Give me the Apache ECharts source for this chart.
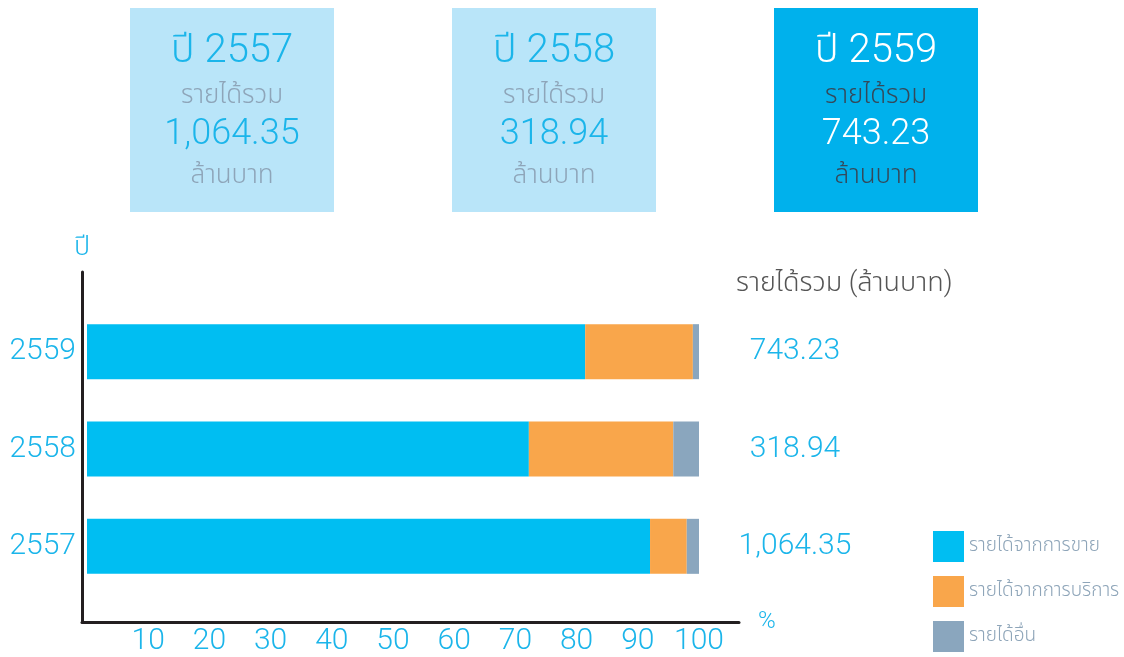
<!DOCTYPE html>
<html>
<head>
<meta charset="utf-8">
<script src="https://cdn.jsdelivr.net/npm/echarts@6/dist/echarts.min.js"></script>
<style>
  html, body { margin: 0; padding: 0; background: #fff; }
  #main { width: 1124px; height: 657px; }
</style>
</head>
<body>
<div id="main"></div>
<script>
// data (percent share of total revenue)
const years = ['2557', '2558', '2559']
const sales = [92.0, 72.2, 81.4]
const service = [6.0, 23.6, 17.6]
const other = [2.0, 4.2, 1.0]
const totals = ['1,064.35', '318.94', '743.23']
const seriesNames = ['รายได้จากการขาย', 'รายได้จากการบริการ', 'รายได้อื่น']

const FONT = 'Roboto, "Noto Sans Thai", "Noto Sans Thai UI", Loma, Waree, Sawasdee, Garuda, sans-serif'
const BLUE = '#1bb5ea'
const GREY = '#8ea5b9'

// summary boxes on top
const boxes = years.map((y, i) => {
  const dark = i === years.length - 1
  const cx = 232 + i * 322
  const sub = dark ? '#34495a' : GREY
  const main = dark ? '#ffffff' : BLUE
  const txt = (text, top, size, color) => ({
    type: 'text',
    x: cx,
    y: top,
    style: {
      text: text,
      fill: color,
      font: '300 ' + size + 'px ' + FONT,
      textAlign: 'center',
      textVerticalAlign: 'middle'
    }
  })
  return {
    type: 'group',
    children: [
      {
        type: 'rect',
        shape: { x: cx - 102, y: 8, width: 204, height: 204 },
        style: { fill: dark ? '#00b1ec' : '#b9e5f9' }
      },
      txt('ปี ' + y, 52, 40, main),
      txt('รายได้รวม', 96, 26, sub),
      txt(totals[i], 135, 36, main),
      txt('ล้านบาท', 176, 26, sub)
    ]
  }
})

const chart = echarts.init(document.getElementById('main'))
chart.setOption({
  animation: false,
  textStyle: { fontFamily: FONT },
  title: {
    text: 'รายได้รวม (ล้านบาท)',
    left: 731,
    top: 266,
    textStyle: { color: '#555555', fontSize: 27, fontWeight: 300, fontFamily: FONT }
  },
  legend: {
    orient: 'vertical',
    left: 928,
    top: 526,
    icon: 'rect',
    itemWidth: 31,
    itemHeight: 31,
    itemGap: 14,
    itemStyle: { borderWidth: 0 },
    data: seriesNames,
    textStyle: { color: GREY, fontSize: 19, fontWeight: 300, fontFamily: FONT }
  },
  grid: [
    { left: 87, right: 425, top: 303, bottom: 62 },
    { left: 82, right: 385, top: 272, bottom: 35 }
  ],
  xAxis: [
    {
      type: 'value',
      gridIndex: 0,
      min: 0,
      max: 100,
      interval: 10,
      offset: 27,
      axisLine: { show: false },
      axisTick: { show: false },
      splitLine: { show: false },
      axisLabel: {
        margin: 4,
        color: BLUE,
        fontSize: 30,
        fontWeight: 300,
        formatter: v => (v === 0 ? '' : v)
      }
    },
    {
      type: 'value',
      gridIndex: 1,
      min: 0,
      max: 1,
      name: '%',
      nameLocation: 'end',
      nameGap: 19,
      nameTextStyle: { color: BLUE, fontSize: 24, fontWeight: 300 },
      axisLine: { lineStyle: { color: '#231f20', width: 3 } },
      axisTick: { show: false },
      axisLabel: { show: false },
      splitLine: { show: false }
    }
  ],
  yAxis: [
    {
      type: 'category',
      gridIndex: 0,
      data: years,
      axisLine: { show: false },
      axisTick: { show: false },
      axisLabel: { margin: 11, color: BLUE, fontSize: 30, fontWeight: 300 }
    },
    {
      type: 'category',
      gridIndex: 0,
      position: 'right',
      data: totals,
      axisLine: { show: false },
      axisTick: { show: false },
      axisLabel: { margin: 96, align: 'center', color: BLUE, fontSize: 30, fontWeight: 300 }
    },
    {
      type: 'value',
      gridIndex: 1,
      min: 0,
      max: 1,
      name: 'ปี',
      nameLocation: 'end',
      nameGap: 10,
      nameTextStyle: { color: BLUE, fontSize: 27, fontWeight: 300, align: 'center' },
      axisLine: { show: true, lineStyle: { color: '#231f20', width: 3 } },
      axisTick: { show: false },
      axisLabel: { show: false },
      splitLine: { show: false }
    }
  ],
  series: [
    { name: seriesNames[0], type: 'bar', stack: 'total', barWidth: 55, data: sales, itemStyle: { color: '#00bef2' } },
    { name: seriesNames[1], type: 'bar', stack: 'total', barWidth: 55, data: service, itemStyle: { color: '#f9a64b' } },
    { name: seriesNames[2], type: 'bar', stack: 'total', barWidth: 55, data: other, itemStyle: { color: '#8aa6be' } }
  ],
  graphic: boxes
})
</script>
</body>
</html>
